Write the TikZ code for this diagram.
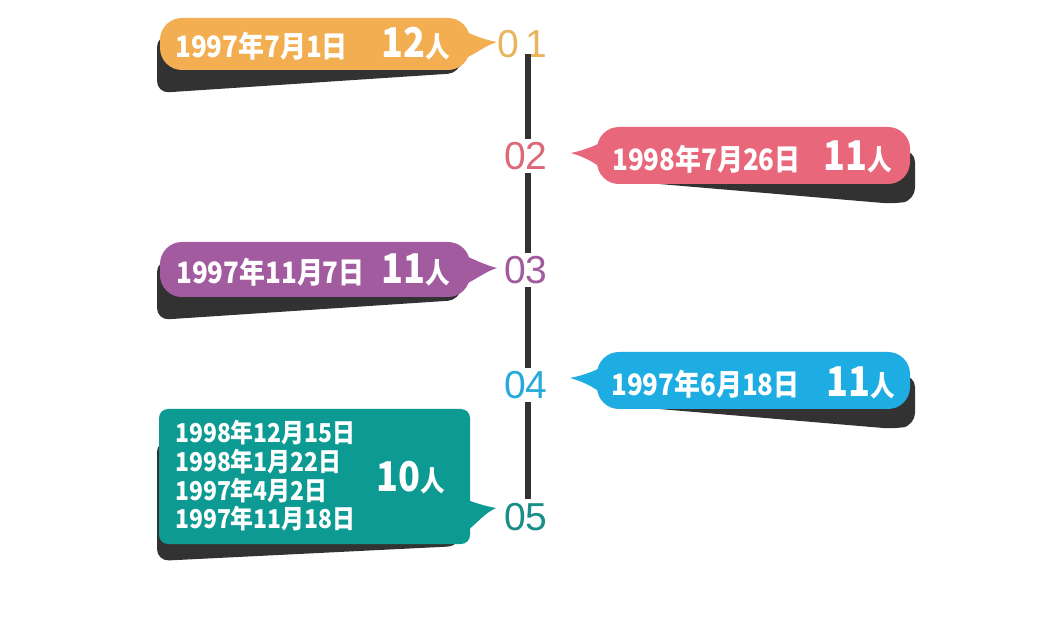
\documentclass[tikz,border=0pt]{standalone}
\usepackage{fontspec}
\newfontfamily\cjk{Noto Sans CJK SC}[FakeStretch=0.88]
\newfontfamily\numfont{Liberation Sans}
\definecolor{cOrange}{HTML}{F2AE50}
\definecolor{cPink}{HTML}{E8677A}
\definecolor{cPurple}{HTML}{A35BA0}
\definecolor{cBlue}{HTML}{1EADE3}
\definecolor{cTeal}{HTML}{0C9A92}
\definecolor{nOrange}{HTML}{E9B45C}
\definecolor{nPink}{HTML}{DC6878}
\definecolor{nPurple}{HTML}{A05C9C}
\definecolor{nBlue}{HTML}{27A9DA}
\definecolor{nTeal}{HTML}{178E88}
\definecolor{shade}{HTML}{323232}
\tikzset{
  shadowpath/.style={fill=shade, rounded corners=12pt},
  bodypath/.style={rounded corners=22pt},
  datetxt/.style={anchor=west, inner sep=0pt, text=white, font=\cjk\bfseries\fontsize{29.5}{31}\selectfont},
  smalldate/.style={datetxt, font=\cjk\bfseries\fontsize{26}{28}\selectfont},
  bigtxt/.style={anchor=west, inner sep=0pt, text=white, font=\cjk\bfseries\fontsize{41}{44}\selectfont},
  numtxt/.style={inner sep=0pt, font=\numfont\fontsize{39}{41}\selectfont},
  vline/.style={line width=6.5pt, draw=shade},
}
\newcommand\renword{\fontsize{28}{30}\selectfont 人}
\begin{document}
\begin{tikzpicture}[x=1pt,y=-1pt]
\useasboundingbox (0,0) rectangle (1063,617);
\fill[white] (0,0) rectangle (1063,617);

% ---------- numbers ----------
\node[numtxt, text=nOrange] (n1) at (522,44) {0\,1};
\node[numtxt, text=nPink]   (n2) at (526,156) {02};
\node[numtxt, text=nPurple] (n3) at (526,270) {03};
\node[numtxt, text=nBlue]   (n4) at (526,385) {04};
\node[numtxt, text=nTeal]   (n5) at (526,517) {05};
\coordinate (lx) at (528,0);
\draw[vline] ([yshift=4pt]n1.south -| lx) -- ([yshift=3pt]n2.north -| lx);
\draw[vline] ([yshift=-3pt]n2.south -| lx) -- ([yshift=3pt]n3.north -| lx);
\draw[vline] ([yshift=-3pt]n3.south -| lx) -- ([yshift=3pt]n4.north -| lx);
\draw[vline] ([yshift=-3pt]n4.south -| lx) -- ([yshift=4pt]n5.north -| lx);

% ---------- bubble 1 (orange, left) ----------
\fill[shadowpath] (157,35) -- (157,93) -- (460,73) -- (462,55) -- cycle;
\fill[cOrange] (455,27) .. controls (475,36) and (485,40) .. (497,42)
  .. controls (485,46) and (478,52) .. (466,58) -- cycle;
\fill[cOrange, bodypath] (160,18) rectangle (470,70);
\node[datetxt] (d1) at (175,46) {1997年7月1日};
\node[bigtxt] (p1) at (381,44) {12\renword};

% ---------- bubble 2 (pink, right) ----------
\fill[shadowpath] (612,180) -- (895,204) -- (915,200) -- (915,150) -- cycle;
\fill[cPink] (610,138) .. controls (595,146) and (585,150) .. (571,153)
  .. controls (588,158) and (598,165) .. (606,172) -- cycle;
\fill[cPink, bodypath] (597,127) rectangle (910,184);
\node[datetxt] (d2) at (612,159) {1998年7月26日};
\node[bigtxt] (p2) at (823,157) {11\renword};

% ---------- bubble 3 (purple, left) ----------
\fill[shadowpath] (157,260) -- (157,320) -- (460,300) -- (462,280) -- cycle;
\fill[cPurple] (455,251) .. controls (475,260) and (485,265) .. (497,268)
  .. controls (485,272) and (478,278) .. (466,284) -- cycle;
\fill[cPurple, bodypath] (160,242) rectangle (470,297);
\node[datetxt] (d3) at (176,272) {1997年11月7日};
\node[bigtxt] (p3) at (381,270) {11\renword};

% ---------- bubble 4 (blue, right) ----------
\fill[shadowpath] (612,405) -- (895,429) -- (915,425) -- (915,375) -- cycle;
\fill[cBlue] (610,363) .. controls (595,371) and (585,375) .. (570,378)
  .. controls (588,383) and (598,390) .. (606,397) -- cycle;
\fill[cBlue, bodypath] (597,352) rectangle (910,409);
\node[datetxt] (d4) at (611,384) {1997年6月18日};
\node[bigtxt] (p4) at (826,383) {11\renword};

% ---------- bubble 5 (teal, left) ----------
\fill[shadowpath] (157,440) -- (157,561) -- (460,546) -- (462,520) -- cycle;
\fill[cTeal] (462,498) .. controls (475,503) and (485,506) .. (496,508)
  .. controls (485,513) and (478,522) .. (466,532) -- cycle;
\fill[cTeal, rounded corners=9pt] (159,409) rectangle (470,544);
\node[smalldate] (d5a) at (175,433) {1998年12月15日};
\node[smalldate] (d5b) at (175,462) {1998年1月22日};
\node[smalldate] (d5c) at (175,491) {1997年4月2日};
\node[smalldate] (d5d) at (175,519) {1997年11月18日};
\node[bigtxt] (p5) at (376,478) {10\renword};
\end{tikzpicture}
\end{document}
